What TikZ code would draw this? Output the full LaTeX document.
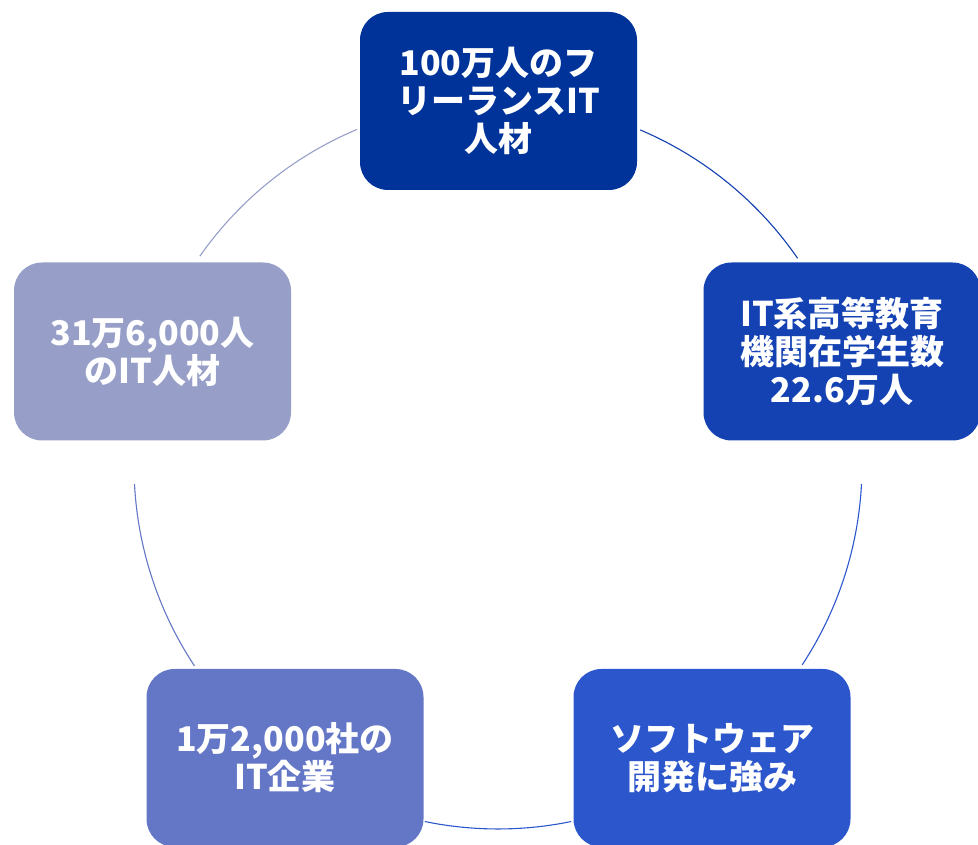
\documentclass[tikz,border=0pt]{standalone}
\usepackage{fontspec}
\usetikzlibrary{calc}
\newfontfamily\jp{Noto Sans CJK JP}
\definecolor{cTop}{HTML}{003399}
\definecolor{cRight}{HTML}{1442B3}
\definecolor{cBR}{HTML}{2C56CC}
\definecolor{cBL}{HTML}{6477C6}
\definecolor{cLeft}{HTML}{979FC8}
\begin{document}
\begin{tikzpicture}[x=1pt,y=1pt,
  box/.style={rounded corners=28pt, minimum width=277pt, minimum height=178pt,
    inner sep=0pt, text=white, align=center,
    font=\jp\bfseries\fontsize{34}{38}\selectfont},
  ring/.style={line width=1.1pt}]
\useasboundingbox (0,0) rectangle (978,845);
\clip (0,0) rectangle (978,845);
\coordinate (c) at (498,380);
% arcs
\draw[ring, color=cRight!90!cTop] ($(c)+(67:364)$) arc[start angle=67, end angle=34.6, radius=364];
\draw[ring, color=cBR] ($(c)+(-3:364)$) arc[start angle=-3, end angle=-33.3, radius=364];
\draw[ring, color=cBR] ($(c)+(-78.4:364)$) arc[start angle=-78.4, end angle=-101.6, radius=364];
\draw[ring, color=cBL] ($(c)+(-146.5:364)$) arc[start angle=-146.5, end angle=-177, radius=364];
\draw[ring, color=cLeft] ($(c)+(145:364)$) arc[start angle=145, end angle=112.8, radius=364];
% boxes
\node[box, fill=cTop] (top) at (498.5,744) {100万人のフ\\リーランスIT\\人材};
\node[box, fill=cRight] (right) at (842,493.5) {IT系高等教育\\機関在学生数\\22.6万人};
\node[box, fill=cBR] (br) at (712,87) {ソフトウェア\\開発に強み};
\node[box, fill=cBL] (bl) at (285,87) {1万2,000社の\\IT企業};
\node[box, fill=cLeft] (left) at (152.5,493.5) {31万6,000人\\のIT人材};
\end{tikzpicture}
\end{document}
